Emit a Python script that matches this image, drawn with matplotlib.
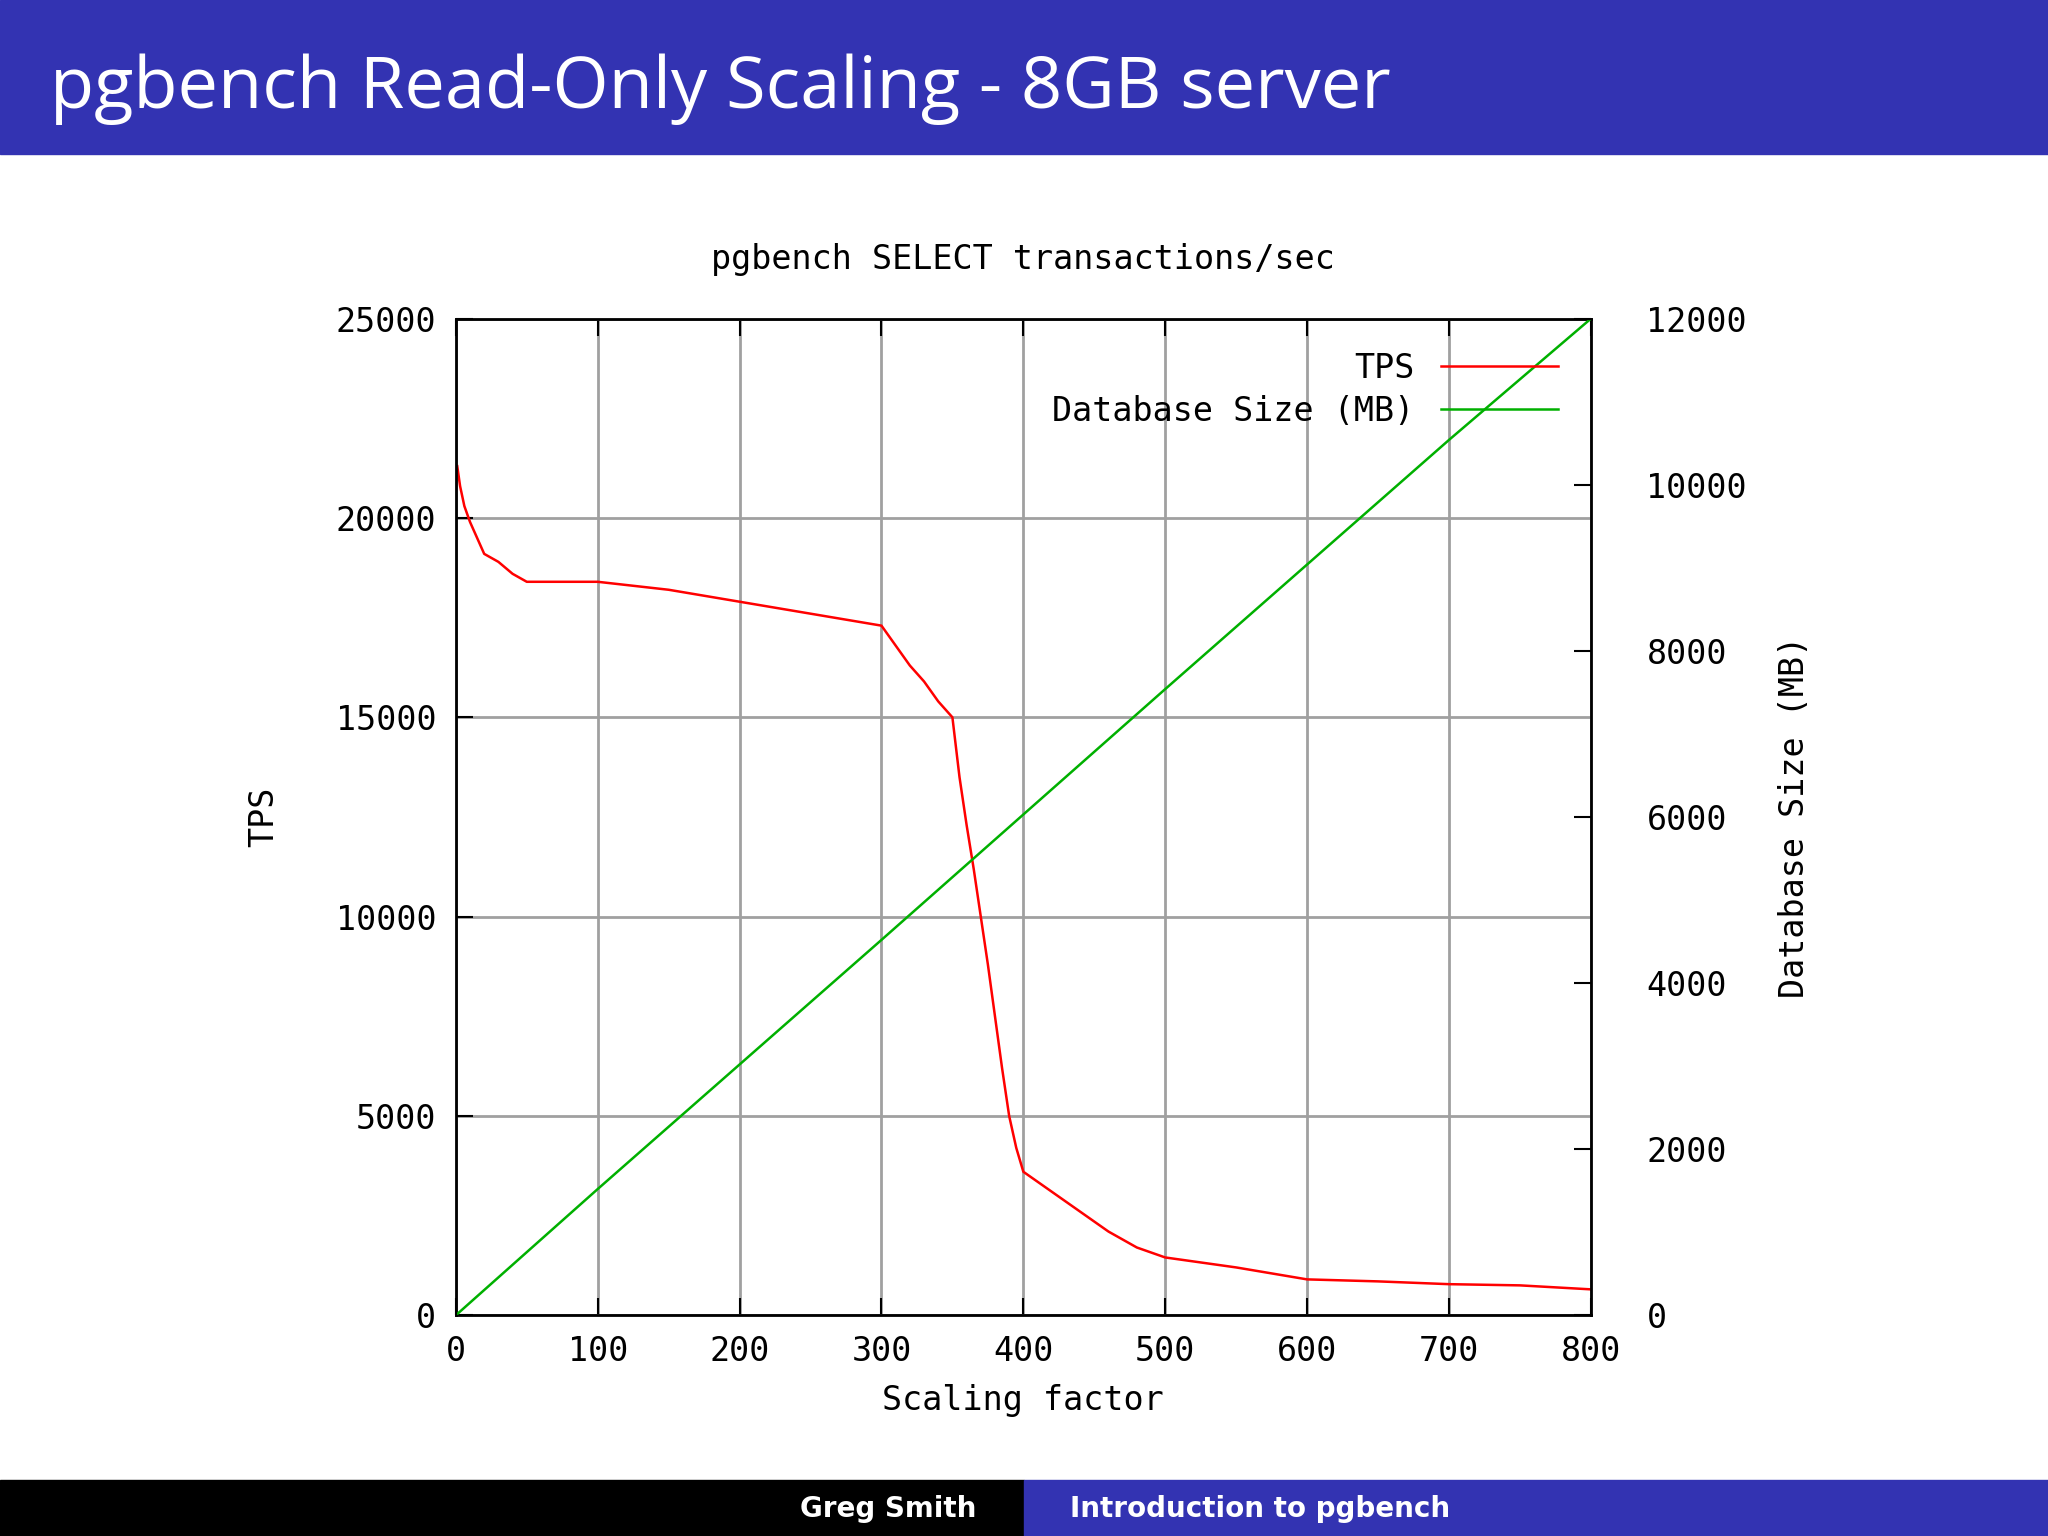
import matplotlib
matplotlib.use("Agg")
import matplotlib.pyplot as plt
from matplotlib.patches import Rectangle

scale_tps = [1, 3, 6, 10, 15, 20, 30, 40, 50, 100, 150, 200, 250, 300, 310, 320, 330, 340, 350, 355, 360, 365, 370, 375, 380, 385, 390, 395, 400, 420, 440, 460, 480, 500, 550, 600, 650, 700, 750, 800]
tps = [21300, 20800, 20300, 19900, 19500, 19100, 18900, 18600, 18400, 18400, 18200, 17900, 17600, 17300, 16800, 16300, 15900, 15400, 15000, 13500, 12300, 11200, 10000, 8800, 7500, 6200, 5000, 4200, 3600, 3100, 2600, 2100, 1700, 1450, 1200, 900, 850, 780, 750, 650]
scale_db = [0, 100, 200, 300, 400, 500, 600, 700, 800]
db_size = [0, 1520, 3020, 4520, 6030, 7540, 9040, 10540, 12000]

blue = "#3333b2"
mono = "DejaVu Sans Mono"

fig = plt.figure(figsize=(20.48, 15.36), dpi=100)
fig.patches.append(Rectangle((0, 1 - 118/1176), 1, 118/1176, transform=fig.transFigure, color=blue, zorder=0))
fig.text(38/1568, 1 - 68/1176, "pgbench Read-Only Scaling - 8GB server", color="white", fontsize=52, va="center", family="Open Sans")
fig.patches.append(Rectangle((0, 0), 0.5, 43/1176, transform=fig.transFigure, color="black", zorder=0))
fig.patches.append(Rectangle((0.5, 0), 0.5, 43/1176, transform=fig.transFigure, color=blue, zorder=0))
fig.text(680/1568, 21/1176, "Greg Smith", color="white", fontsize=20, ha="center", va="center", weight="bold")
fig.text(965/1568, 21/1176, "Introduction to pgbench", color="white", fontsize=20, ha="center", va="center", weight="bold")

ax = fig.add_axes([349/1568, 1 - 1007/1176, (1218 - 349)/1568, (1007 - 244)/1176])
ax.plot(scale_tps, tps, color="#ff0000", lw=1.8, label="TPS")
ax.set_xlim(0, 800)
ax.set_ylim(0, 25000)
ax.set_xticks(range(0, 801, 100))
ax.set_yticks(range(0, 25001, 5000))
ax.grid(True, color="#a0a0a0", lw=2)
for s in ax.spines.values():
    s.set_linewidth(2)
ax.tick_params(direction="in", length=12, width=1.5, labelsize=24, pad=14, top=True)
for lbl in ax.get_xticklabels() + ax.get_yticklabels():
    lbl.set_family(mono)
ax.set_xlabel("Scaling factor", fontsize=24, family=mono, labelpad=12)
ax.set_ylabel("TPS", fontsize=24, family=mono, labelpad=40)
ax.set_title("pgbench SELECT transactions/sec", fontsize=24, family=mono, pad=36)

ax2 = ax.twinx()
ax2.plot(scale_db, db_size, color="#00b000", lw=1.8, label="Database Size (MB)")
ax2.set_ylim(0, 12000)
ax2.set_yticks(range(0, 12001, 2000))
ax2.tick_params(direction="in", length=12, width=1.5, labelsize=24, pad=40)
for lbl in ax2.get_yticklabels():
    lbl.set_family(mono)
ax2.set_ylabel("Database Size (MB)", fontsize=24, family=mono, labelpad=22)

h1, l1 = ax.get_legend_handles_labels()
h2, l2 = ax2.get_legend_handles_labels()
leg = ax2.legend(h1 + h2, l1 + l2, loc="upper right", frameon=False, markerfirst=False,
                 prop={"family": mono, "size": 24}, handlelength=3.5, borderaxespad=0.6,
                 labelspacing=0.3)
fig.savefig("out.png", dpi=100)
